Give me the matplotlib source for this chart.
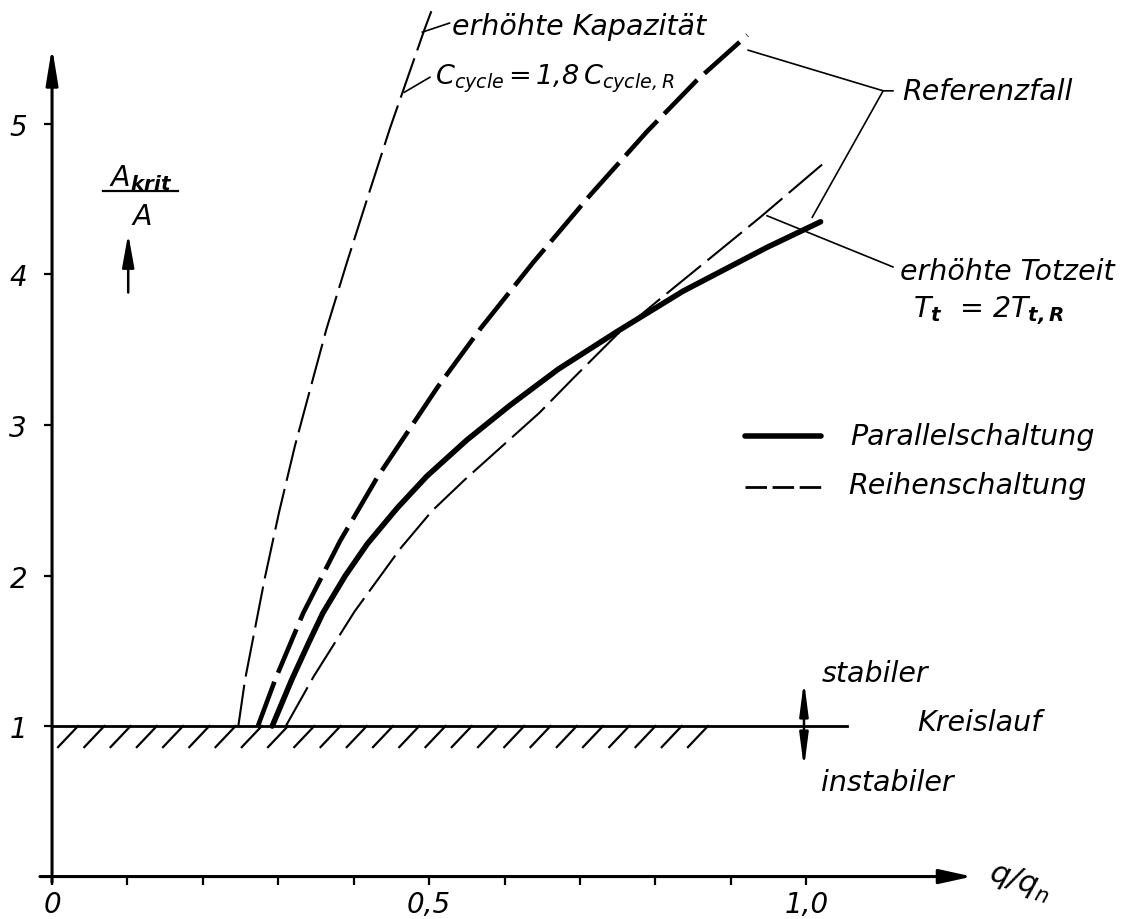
import numpy as np
import matplotlib
matplotlib.use("Agg")
import matplotlib.pyplot as plt

plt.rcParams["font.family"] = ["DejaVu Sans"]
plt.rcParams["font.style"] = "italic"
plt.rcParams["mathtext.fontset"] = "dejavusans"
plt.rcParams["mathtext.default"] = "it"
plt.rcParams["lines.scale_dashes"] = False

# values: q/q_n and A_krit/A
kap_q = [0.247, 0.256, 0.282, 0.301, 0.322, 0.344, 0.364, 0.391, 0.419, 0.448, 0.471, 0.494, 0.503]
kap_a = [1.00, 1.31, 1.98, 2.42, 2.86, 3.27, 3.64, 4.08, 4.52, 4.97, 5.30, 5.63, 5.75]

ref_q = [0.273, 0.296, 0.333, 0.382, 0.431, 0.511, 0.568, 0.638, 0.714, 0.789, 0.855, 0.922]
ref_a = [1.00, 1.31, 1.75, 2.23, 2.65, 3.25, 3.64, 4.08, 4.53, 4.95, 5.29, 5.59]

par_q = [0.292, 0.318, 0.340, 0.359, 0.389, 0.418, 0.458, 0.497, 0.550, 0.607, 0.671, 0.749, 0.837, 0.948, 1.019]
par_a = [1.00, 1.31, 1.55, 1.75, 2.00, 2.21, 2.45, 2.66, 2.90, 3.13, 3.37, 3.62, 3.89, 4.18, 4.35]

tot_q = [0.310, 0.347, 0.401, 0.462, 0.504, 0.548, 0.597, 0.646, 0.691, 0.749, 0.802, 0.873, 0.939, 1.021]
tot_a = [1.00, 1.33, 1.76, 2.18, 2.43, 2.64, 2.86, 3.08, 3.31, 3.60, 3.82, 4.11, 4.38, 4.73]

x_major = [0, 0.5, 1.0]
x_major_labels = ["0", "0,5", "1,0"]
x_minor = [0.1, 0.2, 0.3, 0.4, 0.6, 0.7, 0.8, 0.9]
y_major = [1, 2, 3, 4, 5]

fig = plt.figure(figsize=(11.26, 9.2), dpi=100)
ax = fig.add_axes([0, 0, 1, 1])
ax.set_xlim(-0.069, 1.424)
ax.set_ylim(-0.282, 5.830)
for s in ax.spines.values():
    s.set_visible(False)
ax.spines["left"].set_position(("data", 0))
ax.spines["bottom"].set_position(("data", 0))

ax.set_xticks(x_major)
ax.set_xticklabels(x_major_labels)
ax.set_xticks(x_minor, minor=True)
ax.set_yticks(y_major)
ax.set_yticklabels([str(v) for v in y_major])
ax.tick_params(which="both", direction="out", length=6, width=1.6, color="black")
ax.tick_params(axis="x", pad=4, labelsize=20)
ax.tick_params(axis="y", pad=12, labelsize=20)

# axis lines with arrows
ax.annotate("", xy=(0, 5.51), xytext=(0, -0.04),
            arrowprops=dict(arrowstyle="-|>,head_length=1.1,head_width=0.18",
                            mutation_scale=20, lw=2.2, color="black",
                            shrinkA=0, shrinkB=0))
ax.annotate("", xy=(1.22, 0), xytext=(-0.016, 0),
            arrowprops=dict(arrowstyle="-|>,head_length=1.0,head_width=0.22",
                            mutation_scale=20, lw=2.2, color="black",
                            shrinkA=0, shrinkB=0))

# stability limit with hatching
ax.plot([0, 1.054], [1, 1], color="black", lw=2.0)
for hx in np.arange(0.0345, 0.875, 0.0348):
    ax.plot([hx, hx - 0.0265], [1.0, 0.86], color="black", lw=1.6)

# curves
ax.plot(kap_q, kap_a, color="black", lw=1.5, dashes=(30, 6))
ax.plot(ref_q, ref_a, color="black", lw=3.3, dashes=(34, 7))
ax.plot(par_q, par_a, color="black", lw=4.0, solid_capstyle="round",
        solid_joinstyle="round")
ax.plot(tot_q, tot_a, color="black", lw=1.5, dashes=(32, 6))

# leader lines
ax.plot([0.491, 0.527], [5.61, 5.67], color="black", lw=1.2)
ax.plot([0.467, 0.501], [5.21, 5.31], color="black", lw=1.2)
ax.plot([0.923, 1.102, 1.115], [5.49, 5.22, 5.22], color="black", lw=1.2)
ax.plot([1.102, 1.008], [5.22, 4.38], color="black", lw=1.2)
ax.plot([0.948, 1.115], [4.39, 4.05], color="black", lw=1.2)

fs = 20.5
ax.text(0.530, 5.65, "erhöhte Kapazität", fontsize=fs, va="center", ha="left")
ax.text(0.508, 5.27, r"C$_{cycle}\,$=$\,$1,8$\,$C$_{cycle,R}$", fontsize=19.5,
        va="baseline", ha="left")
ax.text(1.127, 5.22, "Referenzfall", fontsize=fs, va="center", ha="left")
ax.text(1.125, 4.02, "erhöhte Totzeit", fontsize=fs, va="center", ha="left")
ax.text(1.142, 3.72, r"T$_{\mathbf{t}}$  = 2T$_{\mathbf{t,R}}$", fontsize=fs,
        va="baseline", ha="left")

# legend drawn by hand like the original
ax.plot([0.919, 1.019], [2.93, 2.93], color="black", lw=4.0, solid_capstyle="round")
ax.plot([0.919, 1.019], [2.59, 2.59], color="black", lw=2.0, dashes=(15.5, 4))
ax.text(1.058, 2.93, "Parallelschaltung", fontsize=fs, va="center", ha="left")
ax.text(1.056, 2.60, "Reihenschaltung", fontsize=fs, va="center", ha="left")

# stability annotation
ax.annotate("", xy=(0.997, 1.30), xytext=(0.997, 0.72),
            arrowprops=dict(arrowstyle="<|-|>,head_length=1.0,head_width=0.13",
                            mutation_scale=20, lw=1.8, color="black",
                            shrinkA=0, shrinkB=0))
ax.text(1.021, 1.35, "stabiler", fontsize=fs, va="center", ha="left")
ax.text(1.147, 1.03, "Kreislauf", fontsize=fs, va="center", ha="left")
ax.text(1.019, 0.63, "instabiler", fontsize=fs, va="center", ha="left")

# axis titles
ax.text(1.237, -0.03, r"q/q$_n$", fontsize=22, va="center", ha="left", rotation=-18)
ax.text(0.117, 4.65, r"A$_{\mathbf{krit}}$", fontsize=fs, va="center", ha="center")
ax.plot([0.068, 0.167], [4.555, 4.555], color="black", lw=1.6)
ax.text(0.119, 4.39, "A", fontsize=fs, va="center", ha="center")
ax.annotate("", xy=(0.101, 4.27), xytext=(0.101, 3.88),
            arrowprops=dict(arrowstyle="-|>,head_length=1.0,head_width=0.18",
                            mutation_scale=20, lw=1.8, color="black",
                            shrinkA=0, shrinkB=0))

fig.savefig("out.png", dpi=100)
